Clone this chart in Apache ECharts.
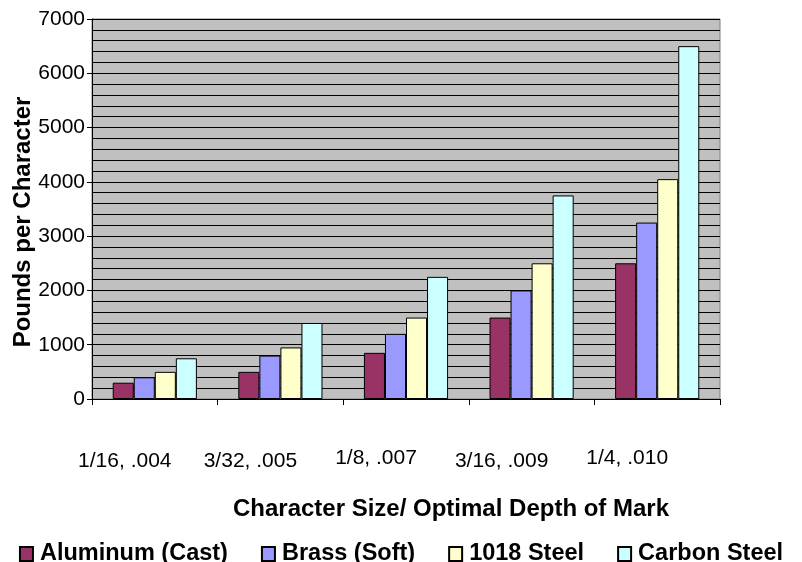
<!DOCTYPE html>
<html>
<head>
<meta charset="utf-8">
<style>
  html, body { margin: 0; padding: 0; background: #fff; }
  #chart { width: 802px; height: 562px; }
</style>
<script src="https://cdn.jsdelivr.net/npm/echarts@6/dist/echarts.min.js"></script>
</head>
<body>
<div id="chart"></div>
<script>
const categories = ['1/16, .004', '3/32, .005', '1/8, .007', '3/16, .009', '1/4, .010'];
const seriesNames = ['Aluminum (Cast)', 'Brass (Soft)', '1018 Steel', 'Carbon Steel'];
const aluminum = [300, 500, 850, 1500, 2500];
const brass = [400, 800, 1200, 2000, 3250];
const steel1018 = [500, 950, 1500, 2500, 4050];
const carbon = [750, 1400, 2250, 3750, 6500];
const yTicks = [0, 1000, 2000, 3000, 4000, 5000, 6000, 7000];

const FONT = "'Liberation Sans', Arial, sans-serif";
const colors = ['#993366', '#9999FF', '#FFFFCC', '#CCFFFF'];
const values = [aluminum, brass, steel1018, carbon];

const chart = echarts.init(document.getElementById('chart'), null, { renderer: 'canvas' });

chart.setOption({
  animation: false,
  backgroundColor: '#ffffff',
  textStyle: { fontFamily: FONT, color: '#000' },
  grid: {
    left: 92, right: 82, top: 19, bottom: 163,
    containLabel: false,
    outerBoundsMode: 'none',
    show: true, backgroundColor: '#C0C0C0', borderColor: '#808080', borderWidth: 1
  },
  legend: {
    data: seriesNames,
    left: 'center',
    top: 537,
    itemWidth: 13,
    itemHeight: 14,
    itemGap: 33,
    icon: 'rect',
    textStyle: { fontFamily: FONT, fontSize: 23.5, fontWeight: 'bold', color: '#000', padding: [0, 0, 0, 2] }
  },
  xAxis: {
    type: 'category',
    data: categories,
    name: 'Character Size/ Optimal Depth of Mark',
    nameLocation: 'middle',
    nameGap: 98,
    nameMoveOverlap: false,
    nameTextStyle: { fontFamily: FONT, fontSize: 24, fontWeight: 'bold', color: '#000', padding: [0, 0, 0, 90] },
    axisLine: { show: true, lineStyle: { color: '#000', width: 1 } },
    axisTick: { show: true, length: 6, lineStyle: { color: '#000' } },
    axisLabel: {
      interval: 0,
      margin: 47,
      padding: [0, 60, 0, 0],
      fontFamily: FONT,
      fontSize: 21,
      color: '#000',
      formatter: function (v, i) { return (i === 2 || i === 4) ? '{a|' + v + '}' : '{b|' + v + '}'; },
      rich: {
        a: { fontFamily: FONT, fontSize: 21, color: '#000', lineHeight: 24 },
        b: { fontFamily: FONT, fontSize: 21, color: '#000', lineHeight: 30 }
      }
    },
    splitLine: { show: false }
  },
  yAxis: {
    type: 'value',
    min: yTicks[0],
    max: yTicks[yTicks.length - 1],
    interval: 1000,
    name: 'Pounds per Character',
    nameLocation: 'middle',
    nameGap: 69,
    nameRotate: 90,
    nameMoveOverlap: false,
    nameTextStyle: {
      fontFamily: FONT, fontSize: 24, fontWeight: 'bold', color: '#000',
      align: 'center', verticalAlign: 'middle', padding: [0, 26, 0, 0]
    },
    axisLine: { show: true, lineStyle: { color: '#000', width: 1 } },
    axisTick: { show: true, length: 5, lineStyle: { color: '#000' } },
    axisLabel: {
      margin: 7, fontFamily: FONT, fontSize: 21, color: '#000',
      formatter: function (v) { return String(v); }
    },
    splitLine: { show: true, lineStyle: { color: '#000', width: 1 } },
    minorTick: { show: false, splitNumber: 5 },
    minorSplitLine: { show: true, lineStyle: { color: '#000', width: 1 } }
  },
  series: seriesNames.map(function (name, k) {
    return {
      name: name,
      type: 'bar',
      data: values[k],
      barGap: '0%',
      barCategoryGap: '33%',
      itemStyle: { color: colors[k], borderColor: '#000', borderWidth: 1 }
    };
  })
});
</script>
</body>
</html>
